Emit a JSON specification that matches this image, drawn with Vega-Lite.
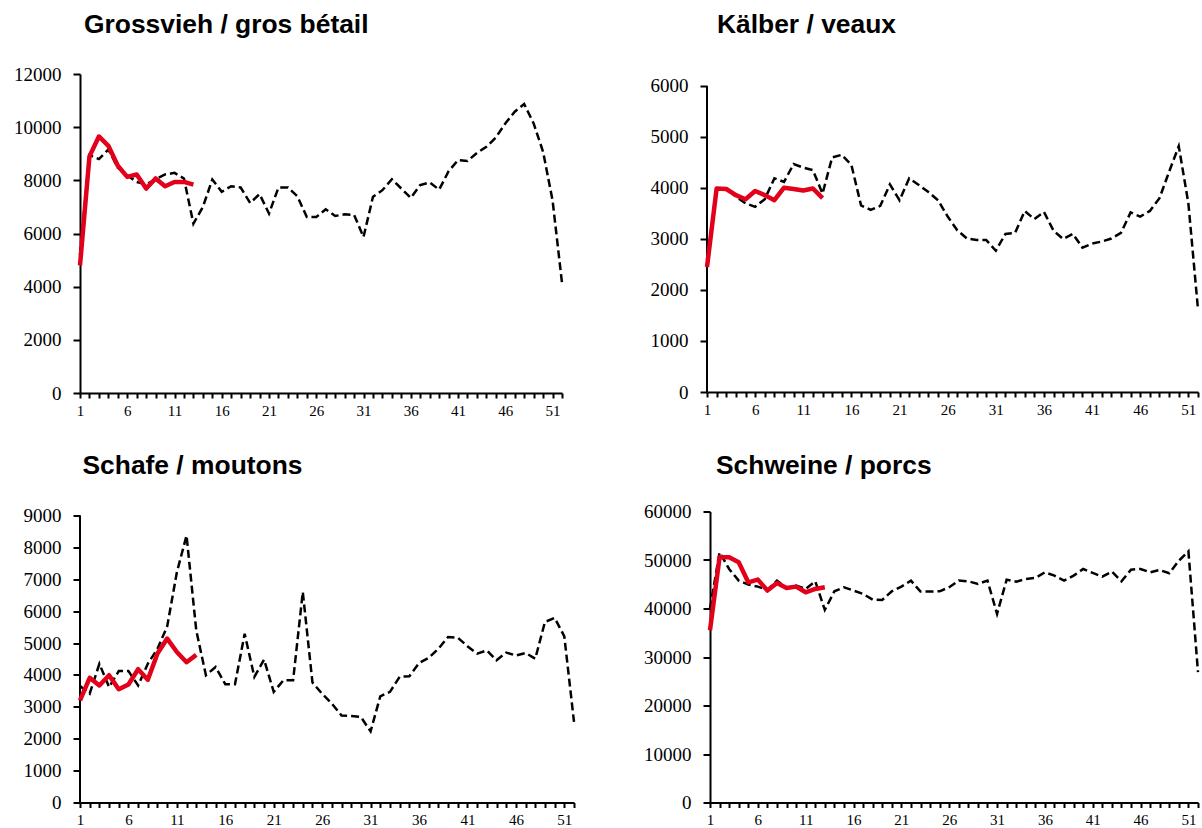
{
  "$schema": "https://vega.github.io/schema/vega-lite/v6.json",
  "background": "white",
  "padding": {"left": 9, "top": 11, "right": 0, "bottom": 0},
  "spacing": 34.5,
  "config": {
    "view": {"stroke": null},
    "axis": {"domainColor": "black", "domainWidth": 2, "tickColor": "black", "tickWidth": 2, "labelColor": "black", "grid": false, "title": null, "labelFont": "Liberation Serif"},
    "axisX": {"tickSize": 5, "labelFontSize": 15, "labelPadding": 5, "labelAngle": 0, "labelFlush": false},
    "axisY": {"tickSize": 7, "labelFontSize": 19, "labelPadding": 12, "format": "d"},
    "title": {"font": "Liberation Sans", "fontSize": 26.4, "fontWeight": "bold", "color": "black", "anchor": "start", "frame": "group"},
    "line": {"interpolate": "linear"}
  },
  "datasets": {
    "g_prev": [{"w":1,"v":5200},{"w":2,"v":8950},{"w":3,"v":8800},{"w":4,"v":9160},{"w":5,"v":8480},{"w":6,"v":8190},{"w":7,"v":7940},{"w":8,"v":7850},{"w":9,"v":8040},{"w":10,"v":8220},{"w":11,"v":8280},{"w":12,"v":8070},{"w":13,"v":6370},{"w":14,"v":7000},{"w":15,"v":8030},{"w":16,"v":7570},{"w":17,"v":7780},{"w":18,"v":7730},{"w":19,"v":7150},{"w":20,"v":7480},{"w":21,"v":6750},{"w":22,"v":7730},{"w":23,"v":7730},{"w":24,"v":7400},{"w":25,"v":6620},{"w":26,"v":6620},{"w":27,"v":6910},{"w":28,"v":6660},{"w":29,"v":6720},{"w":30,"v":6700},{"w":31,"v":5870},{"w":32,"v":7380},{"w":33,"v":7630},{"w":34,"v":8040},{"w":35,"v":7690},{"w":36,"v":7340},{"w":37,"v":7820},{"w":38,"v":7920},{"w":39,"v":7650},{"w":40,"v":8340},{"w":41,"v":8760},{"w":42,"v":8730},{"w":43,"v":9030},{"w":44,"v":9260},{"w":45,"v":9610},{"w":46,"v":10140},{"w":47,"v":10580},{"w":48,"v":10870},{"w":49,"v":10140},{"w":50,"v":9070},{"w":51,"v":7250},{"w":52,"v":4140}],
    "g_cur": [{"w":1,"v":4800},{"w":2,"v":8900},{"w":3,"v":9650},{"w":4,"v":9300},{"w":5,"v":8550},{"w":6,"v":8130},{"w":7,"v":8220},{"w":8,"v":7690},{"w":9,"v":8070},{"w":10,"v":7780},{"w":11,"v":7940},{"w":12,"v":7940},{"w":13,"v":7840}],
    "k_prev": [{"w":1,"v":2600},{"w":2,"v":3960},{"w":3,"v":3990},{"w":4,"v":3830},{"w":5,"v":3700},{"w":6,"v":3630},{"w":7,"v":3780},{"w":8,"v":4190},{"w":9,"v":4120},{"w":10,"v":4470},{"w":11,"v":4400},{"w":12,"v":4350},{"w":13,"v":3890},{"w":14,"v":4600},{"w":15,"v":4650},{"w":16,"v":4450},{"w":17,"v":3660},{"w":18,"v":3570},{"w":19,"v":3650},{"w":20,"v":4070},{"w":21,"v":3760},{"w":22,"v":4190},{"w":23,"v":4060},{"w":24,"v":3920},{"w":25,"v":3760},{"w":26,"v":3440},{"w":27,"v":3170},{"w":28,"v":3010},{"w":29,"v":2980},{"w":30,"v":2980},{"w":31,"v":2770},{"w":32,"v":3100},{"w":33,"v":3120},{"w":34,"v":3550},{"w":35,"v":3390},{"w":36,"v":3530},{"w":37,"v":3160},{"w":38,"v":3000},{"w":39,"v":3100},{"w":40,"v":2830},{"w":41,"v":2910},{"w":42,"v":2950},{"w":43,"v":3010},{"w":44,"v":3120},{"w":45,"v":3520},{"w":46,"v":3440},{"w":47,"v":3550},{"w":48,"v":3800},{"w":49,"v":4320},{"w":50,"v":4820},{"w":51,"v":3700},{"w":52,"v":1620}],
    "k_cur": [{"w":1,"v":2450},{"w":2,"v":3990},{"w":3,"v":3980},{"w":4,"v":3860},{"w":5,"v":3780},{"w":6,"v":3940},{"w":7,"v":3860},{"w":8,"v":3760},{"w":9,"v":4005},{"w":10,"v":3980},{"w":11,"v":3950},{"w":12,"v":3990},{"w":13,"v":3800}],
    "k_axis": [{"w":1,"a":0,"b":6000}],
    "s_prev": [{"w":1,"v":3650},{"w":2,"v":3410},{"w":3,"v":4350},{"w":4,"v":3620},{"w":5,"v":4120},{"w":6,"v":4120},{"w":7,"v":3670},{"w":8,"v":4350},{"w":9,"v":4820},{"w":10,"v":5520},{"w":11,"v":7220},{"w":12,"v":8370},{"w":13,"v":5400},{"w":14,"v":3990},{"w":15,"v":4250},{"w":16,"v":3710},{"w":17,"v":3710},{"w":18,"v":5290},{"w":19,"v":3940},{"w":20,"v":4480},{"w":21,"v":3470},{"w":22,"v":3830},{"w":23,"v":3830},{"w":24,"v":6600},{"w":25,"v":3760},{"w":26,"v":3410},{"w":27,"v":3100},{"w":28,"v":2730},{"w":29,"v":2710},{"w":30,"v":2680},{"w":31,"v":2230},{"w":32,"v":3330},{"w":33,"v":3470},{"w":34,"v":3940},{"w":35,"v":3960},{"w":36,"v":4370},{"w":37,"v":4540},{"w":38,"v":4820},{"w":39,"v":5190},{"w":40,"v":5170},{"w":41,"v":4900},{"w":42,"v":4670},{"w":43,"v":4770},{"w":44,"v":4460},{"w":45,"v":4700},{"w":46,"v":4610},{"w":47,"v":4690},{"w":48,"v":4510},{"w":49,"v":5660},{"w":50,"v":5790},{"w":51,"v":5210},{"w":52,"v":2530}],
    "s_cur": [{"w":1,"v":3200},{"w":2,"v":3910},{"w":3,"v":3670},{"w":4,"v":3990},{"w":5,"v":3550},{"w":6,"v":3700},{"w":7,"v":4180},{"w":8,"v":3850},{"w":9,"v":4670},{"w":10,"v":5140},{"w":11,"v":4720},{"w":12,"v":4400},{"w":13,"v":4630}],
    "s_axis": [{"w":1,"a":0,"b":9000}],
    "p_prev": [{"w":1,"v":40000},{"w":2,"v":51580},{"w":3,"v":48150},{"w":4,"v":45750},{"w":5,"v":44920},{"w":6,"v":44510},{"w":7,"v":43830},{"w":8,"v":45750},{"w":9,"v":44240},{"w":10,"v":44720},{"w":11,"v":44030},{"w":12,"v":45610},{"w":13,"v":39710},{"w":14,"v":43550},{"w":15,"v":44380},{"w":16,"v":43690},{"w":17,"v":43000},{"w":18,"v":41840},{"w":19,"v":41770},{"w":20,"v":43550},{"w":21,"v":44510},{"w":22,"v":45750},{"w":23,"v":43480},{"w":24,"v":43480},{"w":25,"v":43550},{"w":26,"v":44380},{"w":27,"v":45750},{"w":28,"v":45610},{"w":29,"v":45070},{"w":30,"v":45750},{"w":31,"v":38890},{"w":32,"v":45950},{"w":33,"v":45540},{"w":34,"v":46090},{"w":35,"v":46300},{"w":36,"v":47460},{"w":37,"v":46780},{"w":38,"v":45750},{"w":39,"v":46780},{"w":40,"v":48150},{"w":41,"v":47330},{"w":42,"v":46570},{"w":43,"v":47600},{"w":44,"v":45610},{"w":45,"v":48010},{"w":46,"v":48150},{"w":47,"v":47460},{"w":48,"v":47940},{"w":49,"v":47260},{"w":50,"v":49860},{"w":51,"v":51780},{"w":52,"v":26890}],
    "p_cur": [{"w":1,"v":35500},{"w":2,"v":50550},{"w":3,"v":50550},{"w":4,"v":49520},{"w":5,"v":45400},{"w":6,"v":45950},{"w":7,"v":43690},{"w":8,"v":45270},{"w":9,"v":44240},{"w":10,"v":44510},{"w":11,"v":43350},{"w":12,"v":44030},{"w":13,"v":44380}]
  },
  "vconcat": [
    {
      "spacing": 70,
      "hconcat": [
        {
          "width": 482, "height": 319,
          "title": {"text": "Grossvieh / gros bétail", "dx": 4, "offset": 27},
          "encoding": {
            "x": {"field": "w", "type": "quantitative", "scale": {"domain": [1, 52], "nice": false, "zero": false}, "axis": {"values": [1,2,3,4,5,6,7,8,9,10,11,12,13,14,15,16,17,18,19,20,21,22,23,24,25,26,27,28,29,30,31,32,33,34,35,36,37,38,39,40,41,42,43,44,45,46,47,48,49,50,51,52], "labelExpr": "(datum.value-1)%5==0 ? datum.label : ''"}},
            "y": {"field": "v", "type": "quantitative", "scale": {"domain": [0, 12000], "nice": false}, "axis": {"values": [0,2000,4000,6000,8000,10000,12000], "minExtent": 71}}
          },
          "layer": [
            {"data": {"name": "g_prev"}, "mark": {"type": "line", "color": "black", "strokeWidth": 2.5, "strokeDash": [8, 4]}},
            {"data": {"name": "g_cur"}, "mark": {"type": "line", "color": "#e2001a", "strokeWidth": 4.5, "strokeJoin": "round"}}
          ]
        },
        {
          "width": 491, "height": 318,
          "title": {"text": "Kälber / veaux", "dx": 10, "offset": 36},
          "encoding": {
            "x": {"field": "w", "type": "quantitative", "scale": {"domain": [1, 52], "nice": false, "zero": false}, "axis": {"values": [1,2,3,4,5,6,7,8,9,10,11,12,13,14,15,16,17,18,19,20,21,22,23,24,25,26,27,28,29,30,31,32,33,34,35,36,37,38,39,40,41,42,43,44,45,46,47,48,49,50,51,52], "labelExpr": "(datum.value-1)%5==0 ? datum.label : ''"}},
            "y": {"field": "v", "type": "quantitative", "scale": {"domain": [0, 6235], "nice": false}, "axis": {"values": [0,1000,2000,3000,4000,5000,6000], "domain": false, "minExtent": 70}}
          },
          "layer": [
            {"data": {"name": "k_axis"}, "mark": {"type": "rule", "color": "black", "strokeWidth": 2}, "encoding": {"y": {"field": "a", "type": "quantitative"}, "y2": {"field": "b"}}},
            {"data": {"name": "k_prev"}, "mark": {"type": "line", "color": "black", "strokeWidth": 2.5, "strokeDash": [8, 4]}},
            {"data": {"name": "k_cur"}, "mark": {"type": "line", "color": "#e2001a", "strokeWidth": 4.5, "strokeJoin": "round"}}
          ]
        }
      ]
    },
    {
      "spacing": 61,
      "hconcat": [
        {
          "width": 494, "height": 291,
          "title": {"text": "Schafe / moutons", "dx": 2.5, "offset": 27.5},
          "encoding": {
            "x": {"field": "w", "type": "quantitative", "scale": {"domain": [1, 52], "nice": false, "zero": false}, "axis": {"values": [1,2,3,4,5,6,7,8,9,10,11,12,13,14,15,16,17,18,19,20,21,22,23,24,25,26,27,28,29,30,31,32,33,34,35,36,37,38,39,40,41,42,43,44,45,46,47,48,49,50,51,52], "labelExpr": "(datum.value-1)%5==0 ? datum.label : ''"}},
            "y": {"field": "v", "type": "quantitative", "scale": {"domain": [0, 9125], "nice": false}, "axis": {"values": [0,1000,2000,3000,4000,5000,6000,7000,8000,9000], "domain": false}}
          },
          "layer": [
            {"data": {"name": "s_axis"}, "mark": {"type": "rule", "color": "black", "strokeWidth": 2}, "encoding": {"y": {"field": "a", "type": "quantitative"}, "y2": {"field": "b"}}},
            {"data": {"name": "s_prev"}, "mark": {"type": "line", "color": "black", "strokeWidth": 2.5, "strokeDash": [8, 4]}},
            {"data": {"name": "s_cur"}, "mark": {"type": "line", "color": "#e2001a", "strokeWidth": 4.5, "strokeJoin": "round"}}
          ]
        },
        {
          "width": 488, "height": 291,
          "title": {"text": "Schweine / porcs", "dx": 6, "offset": 23.5},
          "encoding": {
            "x": {"field": "w", "type": "quantitative", "scale": {"domain": [1, 52], "nice": false, "zero": false}, "axis": {"values": [1,2,3,4,5,6,7,8,9,10,11,12,13,14,15,16,17,18,19,20,21,22,23,24,25,26,27,28,29,30,31,32,33,34,35,36,37,38,39,40,41,42,43,44,45,46,47,48,49,50,51,52], "labelExpr": "(datum.value-1)%5==0 ? datum.label : ''"}},
            "y": {"field": "v", "type": "quantitative", "scale": {"domain": [0, 60000], "nice": false}, "axis": {"values": [0,10000,20000,30000,40000,50000,60000], "minExtent": 70}}
          },
          "layer": [
            {"data": {"name": "p_prev"}, "mark": {"type": "line", "color": "black", "strokeWidth": 2.5, "strokeDash": [8, 4]}},
            {"data": {"name": "p_cur"}, "mark": {"type": "line", "color": "#e2001a", "strokeWidth": 4.5, "strokeJoin": "round"}}
          ]
        }
      ]
    }
  ]
}
